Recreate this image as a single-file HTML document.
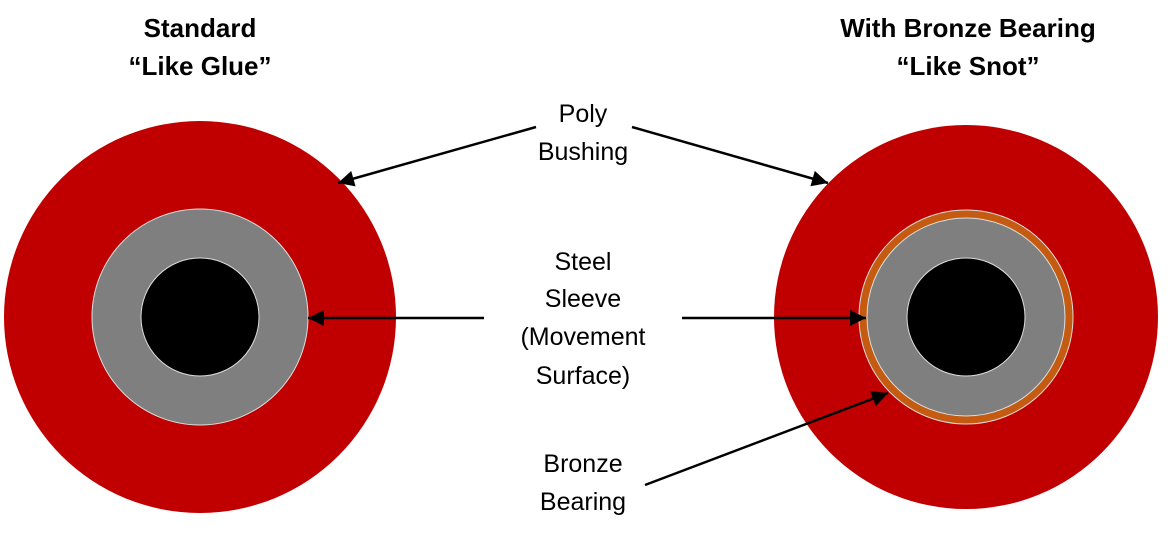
<!DOCTYPE html>
<html><head><style>
body{margin:0;width:1168px;height:536px;background:#fff;overflow:hidden}
svg{display:block}
text{font-family:"Liberation Sans",sans-serif;fill:#000}
.t{font-weight:bold;font-size:26px}
.l{font-size:25px}
</style></head><body>
<svg width="1168" height="536" viewBox="0 0 1168 536">
<defs><marker id="a" viewBox="0 0 10 10" refX="10" refY="5" markerWidth="8" markerHeight="8" markerUnits="userSpaceOnUse" orient="auto"><path d="M0,0L10,5L0,10z" fill="#000"/></marker>
<marker id="b" viewBox="0 0 10 10" refX="10" refY="5" markerWidth="18" markerHeight="16" markerUnits="userSpaceOnUse" orient="auto"><path d="M0,0L10,5L0,10z" fill="#000"/></marker></defs>
<circle cx="200" cy="317" r="196" fill="#c00000"/>
<circle cx="200" cy="317" r="108" fill="#7f7f7f" stroke="#ddd" stroke-width="1"/>
<circle cx="200" cy="317" r="59" fill="#000" stroke="#ddd" stroke-width="1"/>
<circle cx="966" cy="317" r="192" fill="#c00000"/>
<circle cx="966" cy="317" r="107" fill="#c55a11" stroke="#ddd" stroke-width="1"/>
<circle cx="966" cy="317" r="99" fill="#7f7f7f" stroke="#ddd" stroke-width="1"/>
<circle cx="966" cy="317" r="59" fill="#000" stroke="#ddd" stroke-width="1"/>
<text class="t" x="200" y="37" text-anchor="middle">Standard</text>
<text class="t" x="200" y="75" text-anchor="middle">“Like Glue”</text>
<text class="t" x="968" y="37" text-anchor="middle">With Bronze Bearing</text>
<text class="t" x="968" y="75" text-anchor="middle">“Like Snot”</text>
<g class="l" text-anchor="middle">
<text class="l" x="583" y="122">Poly</text>
<text class="l" x="583" y="160">Bushing</text>
<text class="l" x="583" y="270">Steel</text>
<text class="l" x="583" y="307">Sleeve</text>
<text class="l" x="583" y="345">(Movement</text>
<text class="l" x="583" y="384">Surface)</text>
<text class="l" x="583" y="472">Bronze</text>
<text class="l" x="583" y="510">Bearing</text>
</g>
<g stroke="#000" stroke-width="2.5" fill="none" marker-end="url(#b)">
<line x1="536" y1="127" x2="338" y2="183"/>
<line x1="632" y1="127" x2="828" y2="183"/>
<line x1="484" y1="318" x2="308" y2="318"/>
<line x1="682" y1="318" x2="866" y2="318"/>
<line x1="645" y1="485" x2="888" y2="393"/>
</g>
</svg>
</body></html>
